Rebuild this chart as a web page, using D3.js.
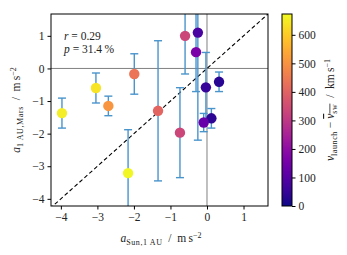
<!DOCTYPE html>
<html>
<head>
<meta charset="utf-8">
<script src="https://cdn.jsdelivr.net/npm/d3@7"></script>
<style>
  body { margin: 0; background: #fff; }
  text { font-family: "Liberation Serif", serif; fill: #222; }
</style>
</head>
<body>
<svg width="347" height="255"></svg>
<script>
// Values
const aSun     = [-3.97, -3.04, -2.70, -1.99, -1.34, -2.16, -0.74, -0.60, -0.25, -0.30, -0.03, 0.33, 0.12, -0.09];
const aMars    = [-1.37, -0.60, -1.15, -0.17, -1.30, -3.21, -1.97, 1.00, 1.10, 0.50, -0.58, -0.41, -1.53, -1.66];
const aMarsErr = [0.46, 0.46, 0.30, 0.62, 2.15, 1.33, 1.38, 1.17, 3.30, 1.21, 1.07, 0.30, 0.30, 0.28];
const dv       = [655, 640, 505, 440, 405, 670, 335, 335, 80, 165, 50, 30, 35, 130];
const axTicks  = [-4, -3, -2, -1, 0, 1];
const cbTicks  = [0, 100, 200, 300, 400, 500, 600];
const cbMax = 673;

const svg = d3.select("svg");
const plot = {left: 51, right: 268, top: 14, bottom: 206};
const fs = 11.5, fsSub = 8;

const x = d3.scaleLinear().domain([-4.27, 1.67]).range([plot.left, plot.right]);
const y = d3.scaleLinear().domain([-4.22, 1.67]).range([plot.bottom, plot.top]);
const color = d3.scaleSequential(d3.interpolatePlasma).domain([0, cbMax]);

svg.append("clipPath").attr("id", "clip")
  .append("rect")
  .attr("x", plot.left).attr("y", plot.top)
  .attr("width", plot.right - plot.left).attr("height", plot.bottom - plot.top);

const g = svg.append("g").attr("clip-path", "url(#clip)");

// zero lines
g.append("line")
  .attr("x1", x(0)).attr("x2", x(0)).attr("y1", plot.top).attr("y2", plot.bottom)
  .attr("stroke", "#808080").attr("stroke-width", 1);
g.append("line")
  .attr("x1", plot.left).attr("x2", plot.right).attr("y1", y(0)).attr("y2", y(0))
  .attr("stroke", "#808080").attr("stroke-width", 1);

// y = x
g.append("line")
  .attr("x1", x(-4.3)).attr("y1", y(-4.3)).attr("x2", x(1.7)).attr("y2", y(1.7))
  .attr("stroke", "#000").attr("stroke-width", 1.1).attr("stroke-dasharray", "4,2.6");

const pts = aSun.map((d, i) => ({x: d, y: aMars[i], e: aMarsErr[i], c: dv[i]}));

// error bars
const eb = g.selectAll(".eb").data(pts).enter().append("g")
  .attr("stroke", "#4a94cc").attr("stroke-width", 1.4);
eb.append("line")
  .attr("x1", d => x(d.x)).attr("x2", d => x(d.x))
  .attr("y1", d => y(d.y - d.e)).attr("y2", d => y(d.y + d.e));
eb.append("line")
  .attr("x1", d => x(d.x) - 4).attr("x2", d => x(d.x) + 4)
  .attr("y1", d => y(d.y - d.e)).attr("y2", d => y(d.y - d.e));
eb.append("line")
  .attr("x1", d => x(d.x) - 4).attr("x2", d => x(d.x) + 4)
  .attr("y1", d => y(d.y + d.e)).attr("y2", d => y(d.y + d.e));

// markers
g.selectAll(".pt").data(pts).enter().append("circle")
  .attr("cx", d => x(d.x)).attr("cy", d => y(d.y)).attr("r", 5.2)
  .attr("fill", d => color(d.c));

// frame
svg.append("rect")
  .attr("x", plot.left).attr("y", plot.top)
  .attr("width", plot.right - plot.left).attr("height", plot.bottom - plot.top)
  .attr("fill", "none").attr("stroke", "#000").attr("stroke-width", 1);

// axes
const fmt = d3.format("d");
function styleAxis(a) {
  a.select(".domain").remove();
  a.attr("font-family", null).attr("font-size", null);
  a.selectAll("text").style("font-size", fs + "px").style("font-family", "'Liberation Serif', serif").attr("fill", "#222");
}
svg.append("g").attr("transform", `translate(0,${plot.bottom})`)
  .call(d3.axisBottom(x).tickValues(axTicks).tickFormat(fmt).tickSizeOuter(0).tickSize(3.5).tickPadding(3))
  .call(styleAxis);
svg.append("g").attr("transform", `translate(${plot.left},0)`)
  .call(d3.axisLeft(y).tickValues(axTicks).tickFormat(fmt).tickSizeOuter(0).tickSize(3.5).tickPadding(3))
  .call(styleAxis);

// stats
const stats = svg.append("g").style("font-size", fs + "px");
const t1 = stats.append("text").attr("x", 64).attr("y", 40);
t1.append("tspan").attr("font-style", "italic").text("r");
t1.append("tspan").text(" = 0.29");
const t2 = stats.append("text").attr("x", 64).attr("y", 53);
t2.append("tspan").attr("font-style", "italic").text("p");
t2.append("tspan").text(" = 31.4\u2009%");

// label with subscript and exponent
function label(sel, parts) {
  parts.forEach(p => {
    const t = sel.append("tspan").text(p.t);
    if (p.i) t.attr("font-style", "italic");
    if (p.sub) t.style("font-size", fsSub + "px").attr("dy", 2.5).style("letter-spacing", "0.6px");
    if (p.up) t.style("font-size", fsSub + "px").attr("dy", -4.5);
    if (p.back) t.attr("dy", p.back);
    if (p.over) t.attr("text-decoration", "overline");
  });
}

const xl = svg.append("text").attr("x", 161).attr("y", 242).attr("text-anchor", "middle").style("font-size", fs + "px");
label(xl, [{t: "a", i: 1}, {t: "Sun,1\u2009AU", sub: 1}, {t: "\u2002/\u2002m\u2009s", back: -2.5}, {t: "\u22122", up: 1}]);

const yl = svg.append("text").attr("transform", `translate(20,110) rotate(-90)`)
  .attr("text-anchor", "middle").style("font-size", fs + "px");
label(yl, [{t: "a", i: 1}, {t: "1\u2009AU,Mars", sub: 1}, {t: "\u2002/\u2002m\u2009s", back: -2.5}, {t: "\u22122", up: 1}]);

// colorbar
const cb = {left: 282, width: 10};
const cy = d3.scaleLinear().domain([0, cbMax]).range([plot.bottom, plot.top]);
const grad = svg.append("defs").append("linearGradient").attr("id", "cbgrad")
  .attr("x1", 0).attr("y1", 1).attr("x2", 0).attr("y2", 0);
d3.range(0, 1.0001, 0.05).forEach(t => {
  grad.append("stop").attr("offset", t).attr("stop-color", d3.interpolatePlasma(t));
});
svg.append("rect")
  .attr("x", cb.left).attr("y", plot.top).attr("width", cb.width).attr("height", plot.bottom - plot.top)
  .attr("fill", "url(#cbgrad)").attr("stroke", "#000").attr("stroke-width", 1);
svg.append("g").attr("transform", `translate(${cb.left + cb.width},0)`)
  .call(d3.axisRight(cy).tickValues(cbTicks).tickFormat(fmt).tickSizeOuter(0).tickSize(3.5).tickPadding(3))
  .call(styleAxis);

const cl = svg.append("text").attr("transform", `translate(334,110) rotate(-90)`)
  .attr("text-anchor", "middle").style("font-size", fs + "px");
label(cl, [{t: "v", i: 1}, {t: "launch", sub: 1}, {t: " \u2212 ", back: -2.5}, {t: "v", i: 1, over: 1},
  {t: "sw", sub: 1, over: 1}, {t: "\u2002/\u2002km\u2009s", back: -2.5}, {t: "\u22121", up: 1}]);
</script>
</body>
</html>
